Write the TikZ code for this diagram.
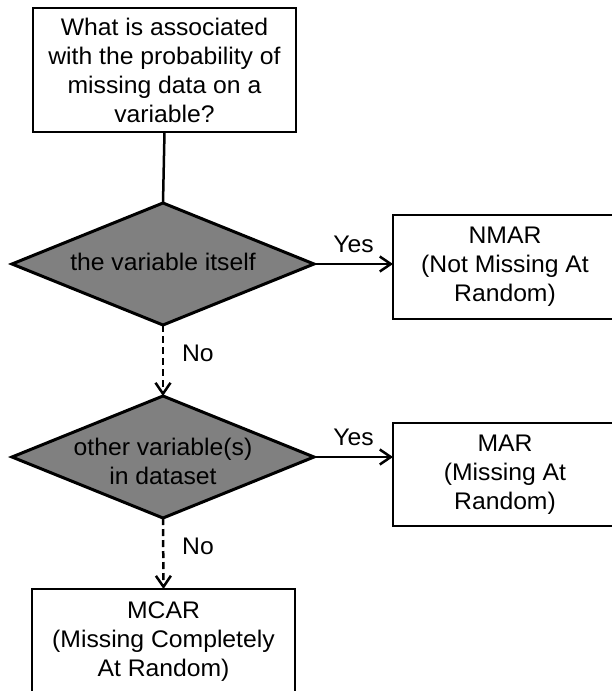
\documentclass[tikz,border=0pt]{standalone}
\usepackage{fontspec}
\setmainfont{Liberation Sans}[FakeStretch=1.03]
\usetikzlibrary{shapes.geometric,arrows.meta}
\definecolor{dgray}{RGB}{128,128,128}
\begin{document}
\begin{tikzpicture}[x=1pt,y=-1pt,
  every node/.style={font=\fontsize{24}{29}\selectfont, align=center, inner sep=0pt, outer sep=0pt},
  box/.style={draw=black, line width=2pt, rectangle, fill=white},
  dia/.style={draw=black, line width=3pt, diamond, fill=dgray},
  conn/.style={line width=2.5pt, draw=black},
  arr/.style={conn, -{Straight Barb[length=11pt,width=15pt]}},
  darr/.style={arr, dash pattern=on 7pt off 4pt},
  lbl/.style={font=\fontsize{24}{29}\selectfont}
]
\useasboundingbox (0,0) rectangle (612,691);
\clip (0,0) rectangle (612,691);
\fill[white] (0,0) rectangle (612,691);

\node[box, minimum width=263pt, minimum height=124pt] (q) at (164.5,70)
  {What is associated\\with the probability of\\missing data on a\\variable?};

\node[dia, minimum width=302pt, minimum height=122pt] (d1) at (163,264) {};
\node (t1) at (163,262) {the variable itself};

\node[dia, minimum width=302pt, minimum height=122pt] (d2) at (163,457) {};
\node (t2) at (163,461) {other variable(s)\\in dataset};

\node[box, minimum width=224pt, minimum height=104pt] (nmar) at (505,267)
  {NMAR\\(Not Missing At\\Random)};
\node[box, minimum width=224pt, minimum height=103pt] (mar) at (505,474.5)
  {MAR\\(Missing At\\Random)};
\node[box, minimum width=263pt, minimum height=106pt] (mcar) at (163.5,642)
  {MCAR\\(Missing Completely\\At Random)};

\draw[conn] (q.south) -- (d1.north);
\draw[arr] (d1.east) -- node[lbl, midway, above=11pt] (y1) {Yes} (d1.east -| nmar.west);
\draw[arr] (d2.east) -- node[lbl, midway, above=11pt] (y2) {Yes} (d2.east -| mar.west);
\draw[darr] (d1.south) -- node[lbl, pos=0.4, anchor=west, xshift=19pt] (n1) {No} (d2.north);
\draw[darr] (d2.south) -- node[lbl, pos=0.4, anchor=west, xshift=19pt] (n2) {No} (mcar.north);
\end{tikzpicture}
\end{document}
